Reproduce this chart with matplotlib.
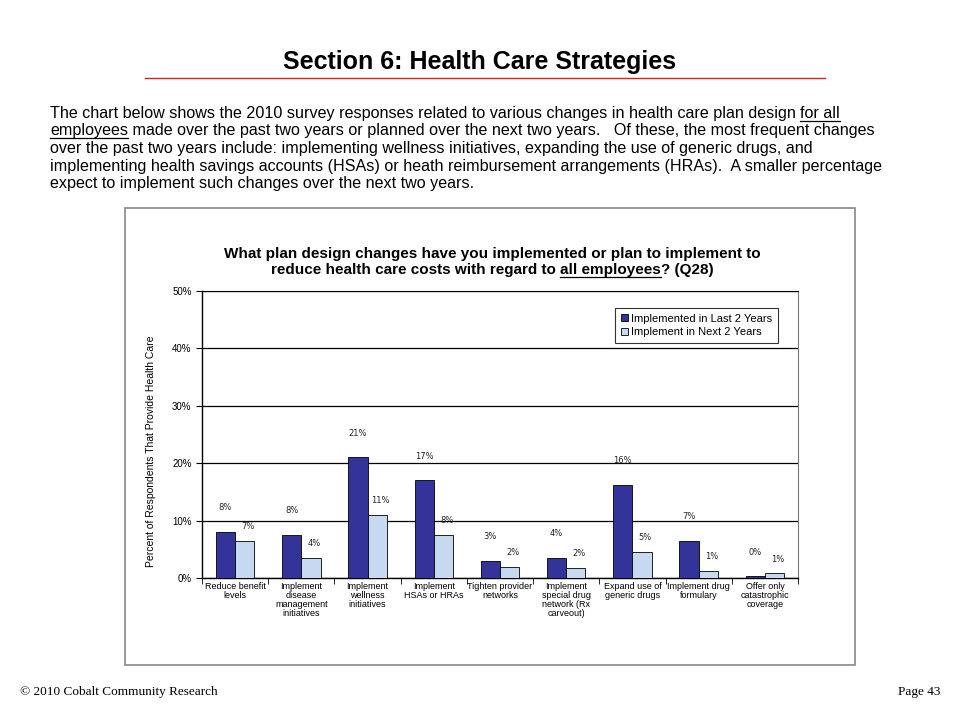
import matplotlib
matplotlib.use('Agg')
import matplotlib.pyplot as plt
import numpy as np
from matplotlib.patches import Rectangle
from matplotlib.lines import Line2D

categories = ['Reduce benefit\nlevels', 'Implement\ndisease\nmanagement\ninitiatives',
              'Implement\nwellness\ninitiatives', 'Implement\nHSAs or HRAs',
              'Tighten provider\nnetworks', 'Implement\nspecial drug\nnetwork (Rx\ncarveout)',
              'Expand use of\ngeneric drugs', 'Implement drug\nformulary',
              'Offer only\ncatastrophic\ncoverage']
last2 = [8, 7.5, 21, 17, 3, 3.5, 16.2, 6.5, 0.3]
next2 = [6.5, 3.5, 11, 7.5, 2, 1.8, 4.5, 1.2, 0.8]
last2_labels = ['8%', '8%', '21%', '17%', '3%', '4%', '16%', '7%', '0%']
next2_labels = ['7%', '4%', '11%', '8%', '2%', '2%', '5%', '1%', '1%']
series_names = ['Implemented in Last 2 Years', 'Implement in Next 2 Years']

SANS = ['Liberation Sans', 'DejaVu Sans']
SERIF = ['Liberation Serif', 'DejaVu Serif']

fig = plt.figure(figsize=(9.6, 7.2), dpi=100)
W, H = 960, 720


def fx(px):
    return px / W


def fy(py):
    return 1 - py / H


renderer = fig.canvas.get_renderer()


def text_line(x, y, parts, size, family, weight='normal', ha='left'):
    # parts: list of (text, underline)
    objs = []
    widths = []
    for s, u in parts:
        t = fig.text(0, fy(y), s, fontsize=size, family=family, weight=weight, va='baseline')
        bb = t.get_window_extent(renderer)
        objs.append((t, u))
        widths.append(bb.width)
    total = sum(widths)
    start = x if ha == 'left' else x - total / 2
    cur = start
    for (t, u), w in zip(objs, widths):
        t.set_x(fx(cur))
        if u:
            fig.add_artist(Line2D([fx(cur), fx(cur + w)], [fy(y + 2.5), fy(y + 2.5)],
                                  color='black', lw=0.9))
        cur += w


# page title
fig.text(0.5, fy(62), 'Section 6: Health Care Strategies', ha='center', va='center',
         fontsize=18, weight='bold', family=SANS)
fig.add_artist(Line2D([fx(145), fx(825)], [fy(78), fy(78)], color='#cc2222', lw=1))

# paragraph
para = [
    [('The chart below shows the 2010 survey responses related to various changes in health care plan design ', False), ('for all', True)],
    [('employees', True), (' made over the past two years or planned over the next two years.   Of these, the most frequent changes', False)],
    [('over the past two years include: implementing wellness initiatives, expanding the use of generic drugs, and', False)],
    [('implementing health savings accounts (HSAs) or heath reimbursement arrangements (HRAs).  A smaller percentage', False)],
    [('expect to implement such changes over the next two years.', False)],
]
for i, line in enumerate(para):
    text_line(50, 118 + i * 17.5, line, 11.6, SANS)

# chart frame
fig.add_artist(Rectangle((fx(125), fy(665)), fx(730), 457 / H, fill=False,
                         edgecolor='#888888', lw=1.2))

# chart title
text_line(492, 258, [('What plan design changes have you implemented or plan to implement to', False)],
          11, SANS, weight='bold', ha='center')
text_line(492, 274, [('reduce health care costs with regard to ', False), ('all employees', True),
                     ('? (Q28)', False)], 11, SANS, weight='bold', ha='center')

ax = fig.add_axes([fx(202), fy(578), fx(596), 287 / H])
x = np.arange(len(categories))
bw = 0.29
b1 = ax.bar(x - bw / 2, last2, bw, color='#333399', edgecolor='black', lw=0.6,
            label=series_names[0], zorder=3)
b2 = ax.bar(x + bw / 2, next2, bw, color='#C6D9F0', edgecolor='black', lw=0.6,
            label=series_names[1], zorder=3)
for xi, v, lab in zip(x, last2, last2_labels):
    ax.text(xi - bw / 2, v + 4.2, lab, ha='center', va='center', fontsize=6, color='#222222')
for xi, v, lab in zip(x, next2, next2_labels):
    ax.text(xi + bw / 2 + 0.05, v + 2.5, lab, ha='center', va='center', fontsize=6, color='#222222')

ax.set_xlim(-0.5, len(categories) - 0.5)
ax.set_ylim(0, 50)
ax.set_yticks(range(0, 51, 10))
ax.set_yticklabels([f'{v}%' for v in range(0, 51, 10)], fontsize=7, family=SANS)
ax.yaxis.grid(True, color='black', lw=0.9, zorder=0)
ax.set_xticks(x)
ax.set_xticklabels(categories, fontsize=6.5, family=SANS, linespacing=1.0)
ax.tick_params(axis='x', length=0, pad=3)
ax.set_xticks(np.arange(-0.5, len(categories), 1), minor=True)
ax.tick_params(axis='x', which='minor', length=4, direction='out')
ax.tick_params(axis='y', length=4, direction='out', width=0.8)
for s in ['left', 'bottom']:
    ax.spines[s].set_color('black')
    ax.spines[s].set_linewidth(1.0)
ax.spines['top'].set_color('black')
ax.spines['right'].set_color('#777777')
ax.set_ylabel('Percent of Respondents That Provide Health Care', fontsize=7.5, family=SANS)
ax.yaxis.set_label_coords(-0.078, 0.44)

leg = ax.legend(loc='upper right', bbox_to_anchor=(0.975, 0.96), frameon=True,
                fancybox=False, edgecolor='black', handlelength=0.6, handleheight=0.6,
                handletextpad=0.3, borderpad=0.5, labelspacing=0.35,
                prop={'family': SANS, 'size': 8})
leg.get_frame().set_linewidth(0.8)

# footer
fig.text(fx(20), fy(692), '\u00a9 2010 Cobalt Community Research', fontsize=9.5, family=SERIF, va='center')
fig.text(fx(940), fy(692), 'Page 43', fontsize=9.5, family=SERIF, va='center', ha='right')

fig.savefig('out.png', dpi=100)
